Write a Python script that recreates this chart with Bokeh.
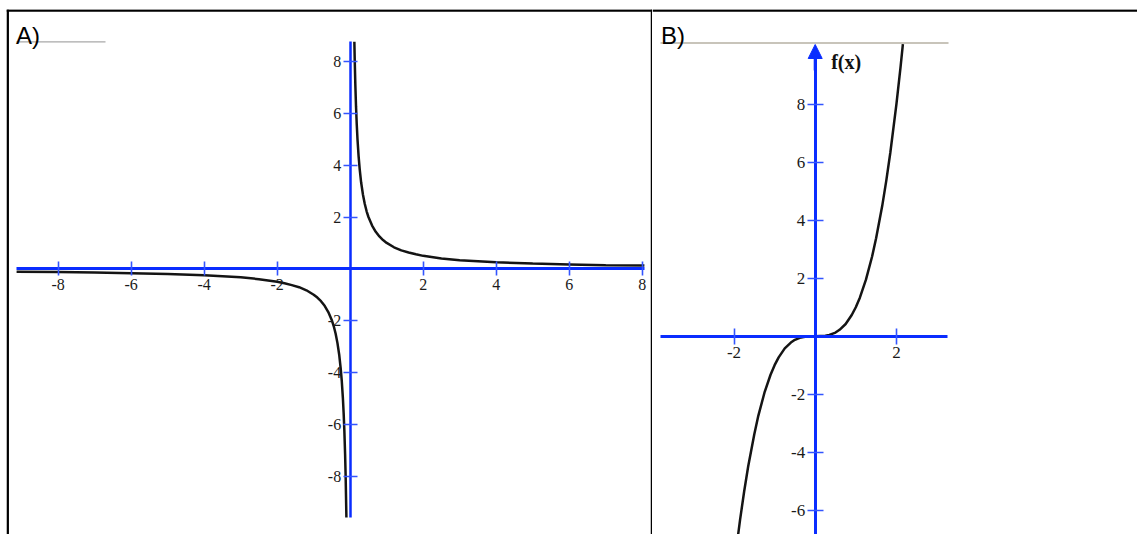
from bokeh.plotting import figure
from bokeh.layouts import row
from bokeh.models import Span, Label, Arrow, NormalHead, FixedTicker, Range1d
from bokeh.embed import file_html
from bokeh.resources import INLINE

# ---------------- data ----------------
# Panel A: hyperbola, right branch
a_pos_x = [0.114, 0.125, 0.14, 0.16, 0.18, 0.2, 0.23, 0.26, 0.3, 0.35, 0.4, 0.45, 0.5, 0.6, 0.7,
           0.8, 0.9, 1.0, 1.2, 1.4, 1.6, 1.8, 2.0, 2.5, 3.0, 3.5, 4.0, 5.0, 6.0, 7.0, 8.06]
a_pos_y = [8.77, 8.0, 7.14, 6.25, 5.56, 5.0, 4.35, 3.85, 3.33, 2.86, 2.5, 2.22, 2.0, 1.67, 1.43,
           1.25, 1.11, 1.0, 0.83, 0.71, 0.63, 0.56, 0.5, 0.4, 0.33, 0.29, 0.25, 0.2, 0.17, 0.14, 0.124]
# Panel A: hyperbola, left branch
a_neg_x = [-9.14, -8.0, -7.0, -6.0, -5.0, -4.0, -3.5, -3.0, -2.5, -2.0, -1.8, -1.6, -1.4, -1.2, -1.0,
           -0.9, -0.8, -0.7, -0.6, -0.5, -0.45, -0.4, -0.35, -0.3, -0.26, -0.23, -0.2, -0.18, -0.16,
           -0.14, -0.125, -0.104]
a_neg_y = [-0.11, -0.125, -0.14, -0.17, -0.2, -0.25, -0.29, -0.33, -0.4, -0.5, -0.56, -0.63, -0.71,
           -0.83, -1.0, -1.11, -1.25, -1.43, -1.67, -2.0, -2.22, -2.5, -2.86, -3.33, -3.85, -4.35,
           -5.0, -5.56, -6.25, -7.14, -8.0, -9.6]
a_xticks = [-8, -6, -4, -2, 2, 4, 6, 8]
a_yticks = [-8, -6, -4, -2, 2, 4, 6, 8]

# Panel B: cubic f(x)
b_x = [-1.93, -1.85, -1.75, -1.65, -1.5, -1.4, -1.25, -1.1, -1.0, -0.9, -0.75, -0.6, -0.5, -0.35,
       -0.25, 0.0, 0.25, 0.35, 0.5, 0.6, 0.75, 0.9, 1.0, 1.1, 1.25, 1.4, 1.5, 1.65, 1.75, 1.85,
       2.0, 2.1, 2.16]
b_y = [-7.19, -6.33, -5.36, -4.49, -3.38, -2.74, -1.95, -1.33, -1.0, -0.73, -0.42, -0.22, -0.125,
       -0.043, -0.016, 0.0, 0.016, 0.043, 0.125, 0.22, 0.42, 0.73, 1.0, 1.33, 1.95, 2.74, 3.38,
       4.49, 5.36, 6.33, 8.0, 9.26, 10.08]
b_xticks = [-2, 2]
b_yticks = [-6, -4, -2, 2, 4, 6, 8]

panel_labels = ["A)", "B)"]
fx_label = "f(x)"

# ---------------- layout (page pixels; Bokeh's page has no body margin) ----------------
BLUE = "#0a2dff"
TICK_BLUE = "#3355ff"
CURVE = "#141414"
TOP, BOTTOM = 0, 534
FRAME_TOP = 9          # table's top border sits here
A_LEFT, A_RIGHT, B_RIGHT = 0, 652, 1137
A_FRAME_LEFT = 6       # table's left border sits here

A_X0, A_SX, A_Y0, A_SY = 349.7, 36.5, 268.3, 25.9
B_X0, B_SX, B_Y0, B_SY = 814.7, 40.6, 335.7, 28.98


def a_dx(px): return (px - A_X0) / A_SX
def a_dy(py): return (A_Y0 - py) / A_SY
def b_dx(px): return (px - B_X0) / B_SX
def b_dy(py): return (B_Y0 - py) / B_SY


def make_fig(w, xr, yr, left_pad):
    p = figure(width=w, height=BOTTOM - TOP, x_range=Range1d(*xr), y_range=Range1d(*yr),
               output_backend="svg", toolbar_location=None, title=None,
               min_border=0, min_border_left=left_pad, min_border_right=0,
               min_border_top=FRAME_TOP - TOP, min_border_bottom=0)
    p.grid.visible = False
    p.outline_line_color = None
    p.background_fill_color = "white"
    p.border_fill_color = "white"
    return p


def style_axis(ax, ticks, bounds, width, tick_len, font_size, standoff):
    ax.fixed_location = 0
    ax.bounds = bounds
    ax.ticker = FixedTicker(ticks=ticks)
    ax.major_label_overrides = {t: str(t) for t in ticks}
    ax.axis_line_color = BLUE
    ax.axis_line_width = width
    ax.major_tick_line_color = TICK_BLUE
    ax.major_tick_line_width = 1.6
    ax.major_tick_in = tick_len
    ax.major_tick_out = tick_len
    ax.minor_tick_line_color = None
    ax.major_label_text_font = "Liberation Serif"
    ax.major_label_text_font_size = font_size
    ax.major_label_text_color = "#1a1a1a"
    ax.major_label_standoff = standoff
    ax.axis_label = None


# ---------------- panel A ----------------
pA = make_fig(A_RIGHT - A_LEFT, (a_dx(A_FRAME_LEFT), a_dx(A_RIGHT)), (a_dy(BOTTOM), a_dy(FRAME_TOP)),
              A_FRAME_LEFT - A_LEFT)
style_axis(pA.xaxis[0], a_xticks, (a_dx(16), a_dx(644)), 3, 7, "16px", 3)
style_axis(pA.yaxis[0], a_yticks, (a_dy(517), a_dy(41)), 2.5, 7, "16px", 2)
pA.line(a_pos_x, a_pos_y, line_color=CURVE, line_width=2.5)
pA.line(a_neg_x, a_neg_y, line_color=CURVE, line_width=2.5)
pA.segment(x0=[a_dx(16)], y0=[a_dy(41.3)], x1=[a_dx(105)], y1=[a_dy(41.3)],
           line_color="#a8a8a8", line_width=1.3)
pA.add_layout(Label(x=a_dx(15.5), y=a_dy(35), text=panel_labels[0], text_font="Liberation Sans",
                    text_font_size="24px", text_baseline="alphabetic", text_color="black"))
pA.add_layout(Span(location=a_dy(10), dimension="width", line_color="black", line_width=2.5))
pA.add_layout(Span(location=a_dx(7.2), dimension="height", line_color="black", line_width=2.5))
pA.add_layout(Span(location=a_dx(651.5), dimension="height", line_color="black", line_width=2.5))

# ---------------- panel B ----------------
pB = make_fig(B_RIGHT - A_RIGHT, (b_dx(A_RIGHT), b_dx(B_RIGHT)), (b_dy(BOTTOM), b_dy(FRAME_TOP)), 0)
style_axis(pB.xaxis[0], b_xticks, (b_dx(660), b_dx(947)), 3, 8, "17px", 3)
style_axis(pB.yaxis[0], b_yticks, (b_dy(560), b_dy(52)), 3, 8, "17px", 2)
pB.line(b_x, b_y, line_color=CURVE, line_width=2.5)
pB.segment(x0=[b_dx(660)], y0=[b_dy(42.5)], x1=[b_dx(948)], y1=[b_dy(42.5)],
           line_color="#c8c4ba", line_width=2)
pB.add_layout(Arrow(end=NormalHead(size=14, fill_color=BLUE, line_color=BLUE, line_width=1),
                    x_start=0, y_start=b_dy(70), x_end=0, y_end=b_dy(44),
                    line_color=BLUE, line_width=3))
pB.add_layout(Label(x=0, y=b_dy(61), x_offset=16, text=fx_label, text_font="Liberation Serif",
                    text_font_style="bold", text_font_size="20px", text_baseline="middle",
                    text_color="#111111"))
pB.add_layout(Label(x=b_dx(660.5), y=b_dy(34.5), text=panel_labels[1], text_font="Liberation Sans",
                    text_font_size="24px", text_baseline="alphabetic", text_color="black"))
pB.add_layout(Span(location=b_dy(10), dimension="width", line_color="black", line_width=2.5))

layout = row(pA, pB, spacing=0)
open("out.html", "w").write(file_html(layout, INLINE))
